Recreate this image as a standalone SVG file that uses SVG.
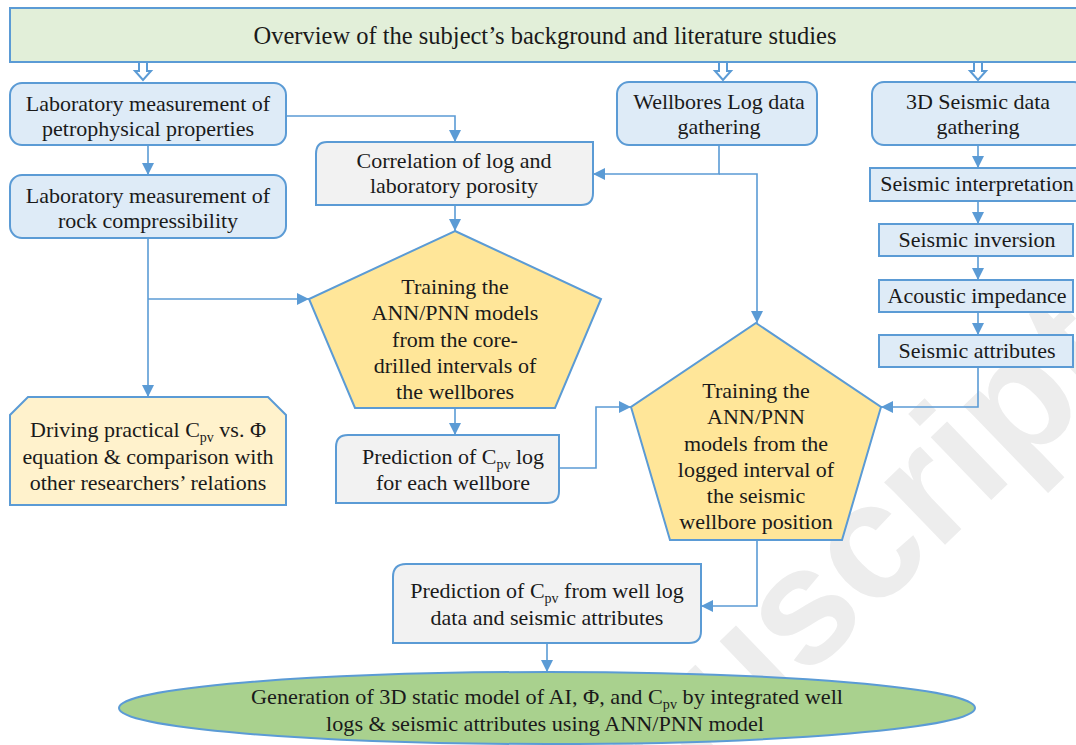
<svg xmlns="http://www.w3.org/2000/svg" width="1076" height="745" viewBox="0 0 1076 745">
<defs>
<style>
text{font-family:'Liberation Serif',serif;font-size:22px;fill:#1a1a1a;text-anchor:middle}
.blue{fill:#deebf7;stroke:#5b9bd5;stroke-width:2}
.gray{fill:#f2f2f2;stroke:#5b9bd5;stroke-width:2}
.yel{fill:#ffe699;stroke:#5b9bd5;stroke-width:2}
.lyel{fill:#fff2cc;stroke:#5b9bd5;stroke-width:2}
.con{fill:none;stroke:#5b9bd5;stroke-width:1.6}
.hollow{fill:#fff;stroke:#5b9bd5;stroke-width:2}
</style>
<marker id="ah" viewBox="0 0 12 12" refX="12" refY="6" markerWidth="12" markerHeight="12" markerUnits="userSpaceOnUse" orient="auto">
<path d="M0,0 L12,6 L0,12 Z" fill="#5b9bd5"/>
</marker>
<path id="harrow" d="M-4,0 H4 V9 H8 L0,18 L-8,9 H-4 Z"/>
</defs>
<rect width="1076" height="745" fill="#fff"/>
<text style="font-family:'Liberation Sans',sans-serif;font-size:165px;font-weight:bold;fill:#ededed;text-anchor:end" transform="translate(1128,368) rotate(-44)">Manuscript</text>

<g id="n-overview">
<rect x="10" y="8" width="1075" height="54" fill="#e2efd9" stroke="#5b9bd5" stroke-width="2"/>
<text x="545" y="44" style="font-size:24.5px">Overview of the subject’s background and literature studies</text>
</g>

<g id="hollow-arrows">
<use href="#harrow" class="hollow" x="143" y="62"/>
<use href="#harrow" class="hollow" x="723" y="62"/>
<use href="#harrow" class="hollow" x="978" y="62"/>
</g>

<g id="n-lab-petro">
<rect x="10" y="83" width="276" height="62" rx="12" class="blue"/>
<text x="148" y="111">Laboratory measurement of</text>
<text x="148" y="136">petrophysical properties</text>
</g>
<g id="n-lab-comp">
<rect x="10" y="175" width="276" height="63" rx="12" class="blue"/>
<text x="148" y="203">Laboratory measurement of</text>
<text x="148" y="228">rock compressibility</text>
</g>
<g id="n-wellbores">
<rect x="617" y="82" width="200" height="63" rx="12" class="blue"/>
<text x="719" y="109">Wellbores Log data</text>
<text x="719" y="134">gathering</text>
</g>
<g id="n-3dseismic">
<rect x="872" y="82" width="214" height="63" rx="12" class="blue"/>
<text x="978" y="109">3D Seismic data</text>
<text x="978" y="134">gathering</text>
</g>
<g id="n-correlation">
<path d="M327,142 H593 V193 Q593,205 581,205 H316 V154 Q316,142 327,142 Z" class="gray"/>
<text x="454" y="168">Correlation of log and</text>
<text x="454" y="193">laboratory porosity</text>
</g>
<g id="n-interp">
<rect x="870" y="168" width="216" height="33" class="blue"/>
<text x="977" y="191">Seismic interpretation</text>
</g>
<g id="n-inversion">
<rect x="879" y="224" width="194" height="32" class="blue"/>
<text x="977" y="247">Seismic inversion</text>
</g>
<g id="n-acoustic">
<rect x="879" y="280" width="194" height="32" class="blue"/>
<text x="977" y="303">Acoustic impedance</text>
</g>
<g id="n-attributes">
<rect x="879" y="335" width="194" height="32" class="blue"/>
<text x="977" y="358">Seismic attributes</text>
</g>
<g id="n-train1">
<polygon points="455,231 601,299 555,408 355,408 309,299" class="yel"/>
<text x="455" y="294">Training the</text>
<text x="455" y="320">ANN/PNN models</text>
<text x="455" y="347">from the core-</text>
<text x="455" y="373">drilled intervals of</text>
<text x="455" y="399">the wellbores</text>
</g>
<g id="n-driving">
<path d="M28,397 H268 L286,415 V505 H10 V415 Z" class="lyel"/>
<text x="148" y="437">Driving practical C<tspan font-size="14" dy="5">pv</tspan><tspan dy="-5"> vs. Φ</tspan></text>
<text x="148" y="464">equation &amp; comparison with</text>
<text x="148" y="490">other researchers’ relations</text>
</g>
<g id="n-pred-log">
<path d="M348,435 H559 V491 Q559,503 547,503 H336 V447 Q336,435 348,435 Z" class="gray"/>
<text x="453" y="464">Prediction of C<tspan font-size="14" dy="5">pv</tspan><tspan dy="-5"> log</tspan></text>
<text x="453" y="490">for each wellbore</text>
</g>
<g id="n-train2">
<polygon points="756,323 881,407 842,540 670,540 631,407" class="yel"/>
<text x="756" y="398">Training the</text>
<text x="756" y="424">ANN/PNN</text>
<text x="756" y="451">models from the</text>
<text x="756" y="477">logged interval of</text>
<text x="756" y="503">the seismic</text>
<text x="756" y="529">wellbore position</text>
</g>
<g id="n-pred-seis">
<path d="M406,564 H701 V631 Q701,643 689,643 H393 V577 Q393,564 406,564 Z" class="gray"/>
<text x="547" y="598">Prediction of C<tspan font-size="14" dy="5">pv</tspan><tspan dy="-5"> from well log</tspan></text>
<text x="547" y="625">data and seismic attributes</text>
</g>
<g id="n-generation">
<ellipse cx="547" cy="708" rx="428" ry="36" fill="#a9d18e" stroke="#5b9bd5" stroke-width="2"/>
<text x="547" y="704" textLength="592" lengthAdjust="spacingAndGlyphs">Generation of 3D static model of AI, Φ, and C<tspan font-size="14" dy="5">pv</tspan><tspan dy="-5"> by integrated well</tspan></text>
<text x="545" y="731" textLength="438" lengthAdjust="spacingAndGlyphs">logs &amp; seismic attributes using ANN/PNN model</text>
</g>

<g id="connectors">
<path class="con" d="M148,145 V175" marker-end="url(#ah)"/>
<path class="con" d="M286,116 H455 V142" marker-end="url(#ah)"/>
<path class="con" d="M719,145 V174 H593" marker-end="url(#ah)"/>
<path class="con" d="M719,174 H757 V323" marker-end="url(#ah)"/>
<path class="con" d="M978,145 V168" marker-end="url(#ah)"/>
<path class="con" d="M978,201 V224" marker-end="url(#ah)"/>
<path class="con" d="M978,256 V280" marker-end="url(#ah)"/>
<path class="con" d="M978,312 V335" marker-end="url(#ah)"/>
<path class="con" d="M978,367 V407 H881" marker-end="url(#ah)"/>
<path class="con" d="M148,238 V397" marker-end="url(#ah)"/>
<path class="con" d="M148,299 H309" marker-end="url(#ah)"/>
<path class="con" d="M455,205 V231" marker-end="url(#ah)"/>
<path class="con" d="M455,408 V435" marker-end="url(#ah)"/>
<path class="con" d="M559,468 H596 V407 H631" marker-end="url(#ah)"/>
<path class="con" d="M757,540 V606 H701" marker-end="url(#ah)"/>
<path class="con" d="M547,643 V672" marker-end="url(#ah)"/>
</g>
</svg>
